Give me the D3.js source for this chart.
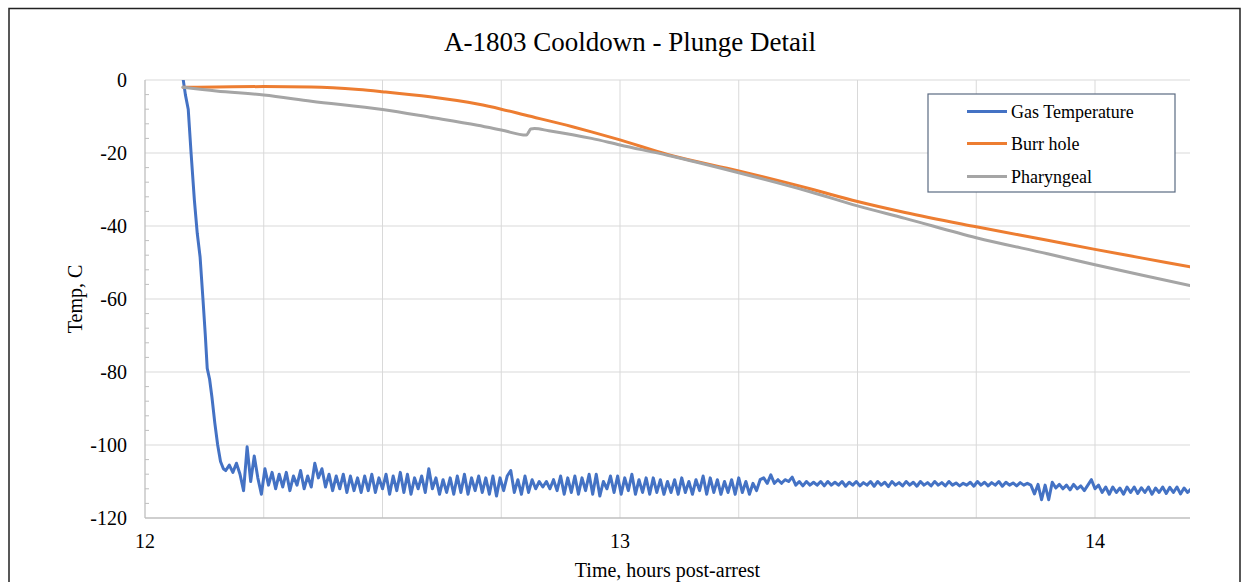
<!DOCTYPE html>
<html>
<head>
<meta charset="utf-8">
<script src="https://cdn.jsdelivr.net/npm/d3@7"></script>
<style>
    body { margin: 0; background: #fff; }
    svg { display: block; font-family: "Liberation Serif", "Times New Roman", serif; }
    .grid line { stroke: #d9d9d9; stroke-width: 1; }
    .tick-label { font-size: 20px; fill: #000; }
</style>
</head>
<body>
<svg id="chart" width="1249" height="582"></svg>
<script>
// Series names and colours
const SERIES_NAMES = ['Gas Temperature', 'Burr hole', 'Pharyngeal'];
const SERIES_COLORS = ['#4472c4', '#ed7d31', '#a5a5a5'];

// Axis ticks
const X_TICKS = [12, 13, 14];
const X_GRID = [12.25, 12.5, 12.75, 13, 13.25, 13.5, 13.75, 14];
const Y_TICKS = [0, -20, -40, -60, -80, -100, -120];
const Y_MINOR = [-4, -8, -12, -16, -24, -28, -32, -36, -44, -48, -52, -56, -64, -68, -72, -76,
                 -84, -88, -92, -96, -104, -108, -112, -116];

// Gas temperature: the plunge (time, temp)
const GAS_PLUNGE = [
    [12.080, 0.5], [12.085, -4], [12.091, -8], [12.097, -20], [12.104, -33], [12.110, -42],
    [12.116, -48.5], [12.122, -60], [12.127, -70], [12.131, -79], [12.136, -82], [12.141, -87],
    [12.147, -94], [12.153, -100], [12.159, -104.5], [12.165, -106.5]
];

// Gas temperature after the plunge, logged every 0.0075 h from 12.17 h
const GAS_START = 12.17;
const GAS_STEP = 0.0075;
const GAS_LOG = [
    // settling
    -107, -105.5, -107.5, -105, -108, -112.5, -100.5, -110, -103, -109, -113.5,
    // 12.25 - 12.45
    -106.5, -111, -107.5, -112, -108, -111.5, -107.5, -112.5, -108.5, -111,
    -107, -112, -108.5, -111.5, -105, -109, -106.5, -111.5, -108, -112.5,
    -108.5, -112, -108, -113, -108.5, -112.5, -109, -113,
    // 12.46 - 12.81
    -108.5, -112.5, -108, -113, -109, -112, -108, -113.5, -108.5, -112.5,
    -107.5, -113, -108, -113.5, -109, -112, -108.5, -113, -106.5, -112,
    -109, -113.5, -109.5, -113, -109, -113.5, -108.5, -113, -108, -113.5,
    -109, -112.5, -108.5, -113, -109, -113.5, -108.5, -114, -109, -112.5,
    -108.5, -107, -113, -109.5, -113.5, -108.5, -113,
    // 12.81 - 12.87
    -109.5, -112, -110, -111.5, -110, -112, -109.5, -112.5,
    // 12.87 - 13.29
    -108.5, -113.5, -109, -113, -108.5, -113.5, -109, -112.5, -108, -113.5,
    -108, -114, -110, -112, -108.5, -113, -108.5, -113.5, -109, -112.5,
    -108, -113.5, -109.5, -113, -109, -113.5, -109, -113, -109.5, -113.5,
    -110, -113, -109.5, -113.5, -109, -113, -110, -113.5, -109.5, -112.5,
    -108.5, -113.5, -109, -113, -109.5, -113.5, -110, -113, -109.5, -113.5,
    -109, -113, -110, -113.5, -110.5, -112.5,
    // step up near 13.3
    -109.5, -109, -110.5, -108.2, -110.5, -109.5, -110.5, -109.5, -110, -108.8, -111, -110,
    // 13.38 - 13.87
    -111.2, -110, -111, -110.2, -111, -110, -111.2, -110, -111, -110.2,
    -111, -110, -111.3, -110.2, -111, -110, -111.2, -110.3, -111, -110,
    -111.3, -110, -111, -110.2, -111.4, -110, -111, -110.3, -111.2, -110,
    -111, -110.2, -111.3, -110, -111, -110.3, -111.2, -110, -111, -110.3,
    -111.2, -110, -111, -110.4, -111.2, -110.5, -111, -110.2, -111.3, -110,
    -111, -110.2, -111.2, -110.3, -111, -110, -111.3, -110.2, -111, -110.4,
    -111.2, -110.3, -111, -110.5, -111,
    // dip near 13.9
    -113.4, -110.8, -115, -111, -115, -110.2, -111.8,
    -110.8, -112, -111, -112.3, -110.8, -112, -111.2, -112.5, -111,
    -109.5,
    // 14.0 - 14.2
    -112, -111, -113, -111.5, -113.5, -111.5, -113, -111.8, -113.5, -111.5,
    -113, -111.5, -113.3, -111.7, -113, -111.5, -113.5, -111.8, -113, -111.5,
    -113.3, -111.6, -113, -111.5, -113.4, -111.8, -113, -112
];

// Burr hole probe (time, temp)
const BURR_HOLE = [
    [12.08, -2.0], [12.15, -1.9], [12.25, -1.8], [12.35, -1.9], [12.45, -2.6], [12.5, -3.2],
    [12.6, -4.6], [12.7, -6.6], [12.75, -8.0], [12.8, -9.6], [12.9, -12.8], [12.94, -14.2],
    [13.0, -16.4], [13.1, -20.4], [13.25, -24.9], [13.4, -29.8], [13.5, -33.3], [13.6, -36.3],
    [13.75, -40.2], [13.9, -43.9], [14.0, -46.4], [14.1, -48.8], [14.2, -51.2]
];

// Pharyngeal probe (time, temp)
const PHARYNGEAL = [
    [12.08, -2.0], [12.15, -3.0], [12.25, -4.1], [12.35, -5.8], [12.5, -8.1], [12.6, -10.2],
    [12.7, -12.4], [12.75, -13.7], [12.803, -15.1], [12.808, -14.2], [12.812, -13.4],
    [12.82, -13.3], [12.85, -13.9], [12.94, -16.0], [13.0, -17.8], [13.1, -20.6],
    [13.25, -25.4], [13.4, -30.6], [13.5, -34.5], [13.6, -37.9], [13.75, -43.2],
    [13.9, -47.6], [14.0, -50.6], [14.1, -53.5], [14.2, -56.3]
];

// Layout
const W = 1249, H = 582;
const plot = { left: 145, right: 1190, top: 80, bottom: 518 };

const svg = d3.select('#chart');

const x = d3.scaleLinear().domain([12, 14.2]).range([plot.left, plot.right]);
const y = d3.scaleLinear().domain([-120, 0]).range([plot.bottom, plot.top]);

drawFrame();
drawGrid();
drawAxes();
drawSeries();
drawLegend();

function drawFrame() {
    // outer chart border (bottom edge is cut off in the picture)
    svg.append('path')
        .attr('d', `M9,${H + 5} V8.5 H1240 V${H + 5}`)
        .attr('fill', 'none')
        .attr('stroke', '#222')
        .attr('stroke-width', 1.5);

    svg.append('text')
        .attr('x', 630)
        .attr('y', 51)
        .attr('text-anchor', 'middle')
        .style('font-size', '27px')
        .text('A-1803 Cooldown - Plunge Detail');
}

function drawGrid() {
    const grid = svg.append('g').attr('class', 'grid');

    grid.selectAll('.hgrid')
        .data(Y_TICKS.filter(d => d !== -120))
        .enter()
        .append('line')
        .attr('x1', plot.left)
        .attr('x2', plot.right)
        .attr('y1', d => y(d))
        .attr('y2', d => y(d));

    grid.selectAll('.vgrid')
        .data(X_GRID)
        .enter()
        .append('line')
        .attr('x1', d => x(d))
        .attr('x2', d => x(d))
        .attr('y1', plot.top)
        .attr('y2', plot.bottom);
}

function drawAxes() {
    const axisColor = '#bfbfbf';

    // minor ticks on the value axis, pointing inward
    svg.selectAll('.minor')
        .data(Y_MINOR)
        .enter()
        .append('line')
        .attr('x1', plot.left)
        .attr('x2', plot.left + 4)
        .attr('y1', d => y(d))
        .attr('y2', d => y(d))
        .attr('stroke', axisColor);

    svg.append('line')
        .attr('x1', plot.left).attr('x2', plot.left)
        .attr('y1', plot.top).attr('y2', plot.bottom)
        .attr('stroke', axisColor).attr('stroke-width', 1.3);

    svg.append('line')
        .attr('x1', plot.left).attr('x2', plot.right)
        .attr('y1', plot.bottom).attr('y2', plot.bottom)
        .attr('stroke', axisColor).attr('stroke-width', 1.3);

    svg.selectAll('.ylab')
        .data(Y_TICKS)
        .enter()
        .append('text')
        .attr('class', 'tick-label')
        .attr('x', 127)
        .attr('y', d => y(d) + 7)
        .attr('text-anchor', 'end')
        .text(d => d);

    svg.selectAll('.xlab')
        .data(X_TICKS)
        .enter()
        .append('text')
        .attr('class', 'tick-label')
        .attr('x', d => x(d))
        .attr('y', 548)
        .attr('text-anchor', 'middle')
        .text(d => d);

    svg.append('text')
        .attr('x', (plot.left + plot.right) / 2)
        .attr('y', 577)
        .attr('text-anchor', 'middle')
        .style('font-size', '20px')
        .text('Time, hours post-arrest');

    svg.append('text')
        .attr('transform', `translate(82,${(plot.top + plot.bottom) / 2}) rotate(-90)`)
        .attr('text-anchor', 'middle')
        .style('font-size', '20px')
        .text('Temp, C');
}

function drawSeries() {
    svg.append('clipPath')
        .attr('id', 'plot-clip')
        .append('rect')
        .attr('x', plot.left)
        .attr('y', plot.top)
        .attr('width', plot.right - plot.left)
        .attr('height', plot.bottom - plot.top);

    const gas = GAS_PLUNGE.concat(GAS_LOG.map((v, i) => [GAS_START + i * GAS_STEP, v]));

    const line = d3.line()
        .x(d => x(d[0]))
        .y(d => y(d[1]));

    const g = svg.append('g').attr('clip-path', 'url(#plot-clip)');

    [gas, BURR_HOLE, PHARYNGEAL].forEach((data, i) => {
        g.append('path')
            .datum(data)
            .attr('d', line.curve(i === 0 ? d3.curveLinear : d3.curveMonotoneX))
            .attr('fill', 'none')
            .attr('stroke', SERIES_COLORS[i])
            .attr('stroke-width', 3)
            .attr('stroke-linejoin', 'round')
            .attr('stroke-linecap', 'round');
    });
}

function drawLegend() {
    const legend = svg.append('g');

    legend.append('rect')
        .attr('x', 928)
        .attr('y', 94)
        .attr('width', 247)
        .attr('height', 98)
        .attr('fill', '#fff')
        .attr('stroke', '#5b6b82')
        .attr('stroke-width', 1.2);

    const rows = [111.5, 143.5, 176.5];

    SERIES_NAMES.forEach((name, i) => {
        legend.append('line')
            .attr('x1', 967)
            .attr('x2', 1007)
            .attr('y1', rows[i])
            .attr('y2', rows[i])
            .attr('stroke', SERIES_COLORS[i])
            .attr('stroke-width', 3);

        legend.append('text')
            .attr('x', 1011)
            .attr('y', rows[i] + 6)
            .style('font-size', '18px')
            .text(name);
    });
}
</script>
</body>
</html>
